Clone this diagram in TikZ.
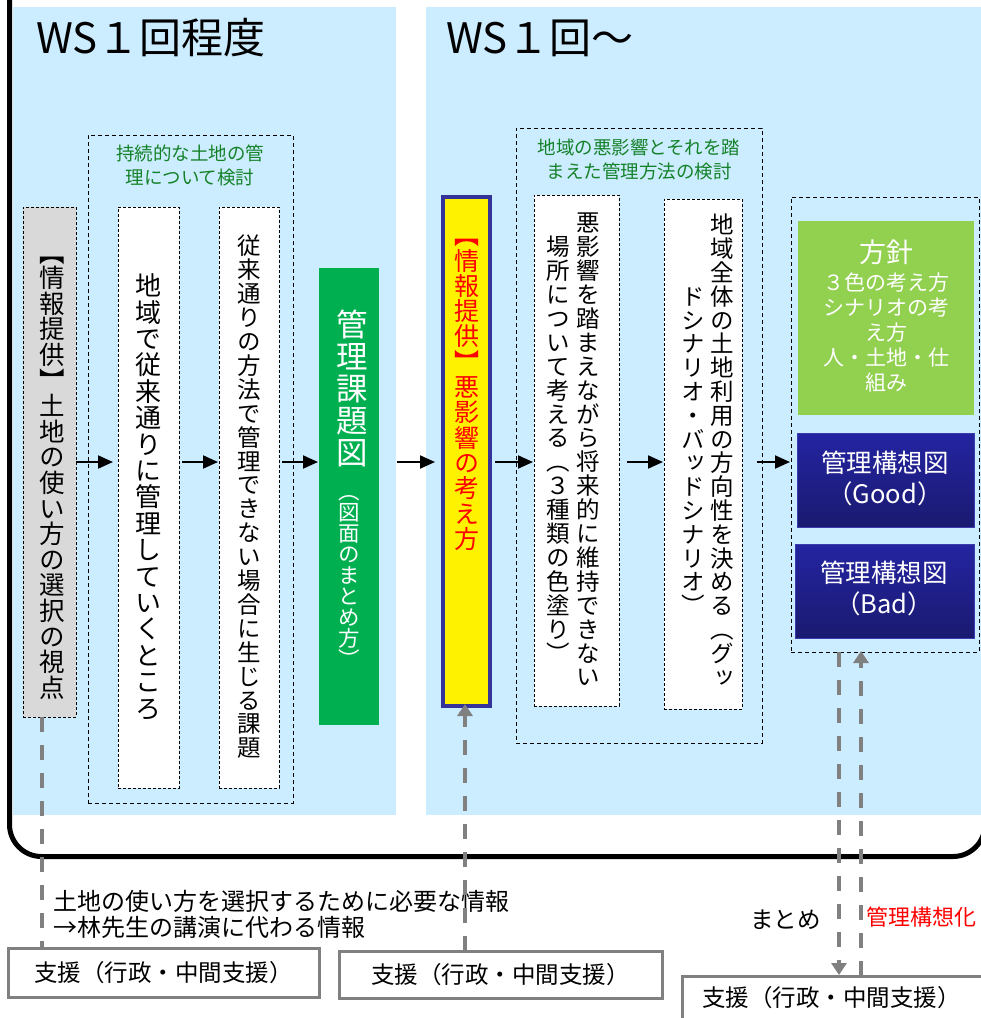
\documentclass[tikz,border=0pt]{standalone}
\usepackage{fontspec}
\setmainfont{Noto Sans CJK JP}
\newfontfamily\vjp[RawFeature=+vert]{Noto Sans CJK JP}
\usetikzlibrary{arrows.meta}
\definecolor{panelblue}{RGB}{204,236,255}
\definecolor{graybox}{RGB}{217,217,217}
\definecolor{greenA}{RGB}{0,176,80}
\definecolor{lgreen}{RGB}{146,208,80}
\definecolor{navytop}{RGB}{36,36,162}
\definecolor{navybot}{RGB}{26,26,112}
\definecolor{navybd}{RGB}{60,60,175}
\definecolor{yellowbd}{RGB}{51,51,153}
\definecolor{gtext}{RGB}{20,130,40}
\definecolor{lgray}{RGB}{128,128,128}
\makeatletter
\newcommand\vtxt[3]{\vbox{\vjp\fontsize{#1}{#2}\selectfont\baselineskip=#2\relax\lineskip=0pt\lineskiplimit=-1000pt
  \@tfor\vt@c:=#3\do{\hbox to #1{\hss\vt@c\hss\vrule height .88em depth .12em width 0pt}}}}
\makeatother
\tikzset{
  bx/.style={anchor=north west, inner sep=0pt, outer sep=0pt},
  panel/.style={bx, fill=panelblue},
  grp/.style={bx, draw=black, line width=1pt, dash pattern=on 4pt off 3pt},
  wbox/.style={bx, fill=white, draw=black, line width=0.9pt, dash pattern=on 3pt off 2pt},
  gbox/.style={wbox, fill=graybox},
  sbox/.style={bx, fill=white, draw=lgray, line width=3pt},
  navy/.style={bx, top color=navytop, bottom color=navybot, draw=navybd, line width=1pt},
  vt/.style={inner sep=0pt, outer sep=0pt, anchor=center},
  gtitle/.style={inner sep=0pt, align=center, text=gtext, font=\fontsize{18.5}{24}\selectfont},
  arr/.style={line width=2pt, -{Triangle[length=15pt,width=13pt]}},
  gline/.style={draw=lgray, line width=4pt, dash pattern=on 15pt off 13pt},
  garr/.style={gline, -{Triangle[length=12pt,width=15pt]}, color=lgray},
  plain/.style={inner sep=0pt, font=\fontsize{23.5}{27}\selectfont},
  ttl/.style={anchor=west, inner sep=0pt, font=\fontsize{42}{50}\selectfont},
}
\begin{document}
\begin{tikzpicture}[x=1pt,y=-1pt]
\useasboundingbox (0,0) rectangle (981,1018);
\clip (0,0) rectangle (981,1018);
% panels
\node[panel, minimum width=383pt, minimum height=808pt] (p1) at (13,7) {};
\node[panel, minimum width=560pt, minimum height=808pt] (p2) at (426,7) {};
% frame
\draw[line width=5pt, rounded corners=32pt] (9.5,-60) -- (9.5,856.5) -- (985,856.5) -- (985,-60);
% titles
\node[ttl] (t1) at (36,38) {WS１回程度};
\node[ttl] (t2) at (446,38) {WS１回～};
% groups
\node[grp, minimum width=205pt, minimum height=668pt] (g1) at (88,135) {};
\node[grp, minimum width=246pt, minimum height=615pt] (g2) at (516,128) {};
\node[grp, minimum width=188pt, minimum height=455pt] (g3) at (791,197) {};
\node[gtitle] (g1t) at (190,165) {持続的な土地の管\\理について検討};
\node[gtitle] (g2t) at (639,160) {地域の悪影響とそれを踏\\まえた管理方法の検討};
% boxes
\node[gbox, minimum width=53pt, minimum height=510pt] (gray) at (23,207) {};
\node[wbox, minimum width=61pt, minimum height=581pt] (w1) at (118,207) {};
\node[wbox, minimum width=60pt, minimum height=581pt] (w2) at (219,207) {};
\node[bx, fill=greenA, minimum width=60pt, minimum height=457pt] (grn) at (319,268) {};
\node[bx, fill=yellow, draw=yellowbd, line width=4pt, minimum width=47pt, minimum height=509pt] (yel) at (443,197) {};
\node[wbox, minimum width=85pt, minimum height=511pt] (w3) at (534,195) {};
\node[wbox, minimum width=78pt, minimum height=510pt] (w4) at (664,199) {};
\node[bx, fill=lgreen, minimum width=176pt, minimum height=194pt] (lg) at (798,221) {};
\node[navy, minimum width=177pt, minimum height=94pt] (good) at (797,433) {};
\node[navy, minimum width=179pt, minimum height=94pt] (bad) at (795,544) {};
% vertical texts
\node[vt] (grayt) at (52,470) {\vtxt{25.5pt}{25.6pt}{【情報提供】土地の使い方の選択の視点}};
\node[vt] (w1t) at (148,497) {\vtxt{26pt}{26.4pt}{地域で従来通りに管理していくところ}};
\node[vt] (w2t) at (249,497) {\vtxt{23.5pt}{23.9pt}{従来通りの方法で管理できない場合に生じる課題}};
\node[vt, text=white] (grnt1) at (352,389) {\vtxt{31.5pt}{32pt}{管理課題図}};
\node[vt, text=white] (grnt2) at (349,575) {\vtxt{21.5pt}{21pt}{（図面のまとめ方）}};
\node[vt, text=red] (yelt) at (467,387) {\vtxt{25pt}{25.3pt}{【情報提供】悪影響の考え方}};
\node[vt] (w3a) at (588,450) {\vtxt{23.5pt}{23.9pt}{悪影響を踏まえながら将来的に維持できない}};
\node[vt] (w3b) at (558,450) {\vtxt{23.5pt}{23.9pt}{場所について考える（３種類の色塗り）}};
\node[vt] (w4a) at (722,451) {\vtxt{23.5pt}{23.8pt}{地域全体の土地利用の方向性を決める（グッ}};
\node[vt] (w4b) at (693,451) {\vtxt{23.5pt}{23.8pt}{ドシナリオ・バッドシナリオ）}};
% right column texts
\node[inner sep=0pt, text=white, font=\fontsize{27}{30}\selectfont] (lgt1) at (886,252) {方針};
\node[inner sep=0pt, text=white, align=center, font=\fontsize{21}{25}\selectfont] (lgt2) at (886,333) {３色の考え方\\シナリオの考\\え方\\人・土地・仕\\組み};
\node[inner sep=0pt, text=white, align=center, font=\fontsize{25.5}{31}\selectfont] (goodt) at (885,478) {管理構想図\\（Good）};
\node[inner sep=0pt, text=white, align=center, font=\fontsize{25.5}{31}\selectfont] (badt) at (884,588) {管理構想図\\（Bad）};
% arrows
\coordinate (row) at (0,462);
\draw[arr, shorten >=5pt] (gray.east |- row) -- (w1.west |- row);
\draw[arr, shorten <=3pt, shorten >=1pt] (w1.east |- row) -- (w2.west |- row);
\draw[arr, shorten <=3pt, shorten >=1pt] (w2.east |- row) -- (grn.west |- row);
\draw[arr, shorten <=18pt, shorten >=8pt] (grn.east |- row) -- (yel.west |- row);
\draw[arr, shorten <=5pt, shorten >=1pt] (yel.east |- row) -- (w3.west |- row);
\draw[arr, shorten <=8pt, shorten >=1pt] (w3.east |- row) -- (w4.west |- row);
\draw[arr, shorten <=15pt, shorten >=1pt] (w4.east |- row) -- (g3.west |- row);
% support boxes
\node[sbox, minimum width=311pt, minimum height=49pt] (s1) at (8,948) {};
\node[sbox, minimum width=323pt, minimum height=47pt] (s2) at (339,951) {};
\node[sbox, minimum width=330pt, minimum height=60pt] (s3) at (682,976) {};
\node[plain] (s1t) at (s1.center) {支援（行政・中間支援）};
\node[plain] (s2t) at (s2.center) {支援（行政・中間支援）};
\node[plain, anchor=west] (s3t) at (702,998) {支援（行政・中間支援）};
% bottom texts
\node[inner sep=0pt, anchor=west, align=left, font=\fontsize{24}{26}\selectfont] (info) at (53,914) {土地の使い方を選択するために必要な情報\\→林先生の講演に代わる情報};
\node[plain, anchor=west] (mt) at (750,920) {まとめ};
\node[inner sep=0pt, anchor=west, text=red, font=\fontsize{22}{26}\selectfont] (kk) at (866,917) {管理構想化};
% gray dashed connectors
\coordinate (c1) at (42,717);
\coordinate (c2) at (465,0);
\coordinate (c3) at (839,0);
\coordinate (c4) at (861,0);
\draw[gline] (c1) -- (c1 |- s1.north);
\draw[garr, shorten >=-2pt] (c2 |- s2.north) -- (c2 |- yel.south);
\draw[garr, shorten >=1pt] (c3 |- g3.south) -- (c3 |- s3.north);
\draw[garr, shorten >=-1pt] (c4 |- s3.north) -- (c4 |- g3.south);
\end{tikzpicture}
\end{document}
